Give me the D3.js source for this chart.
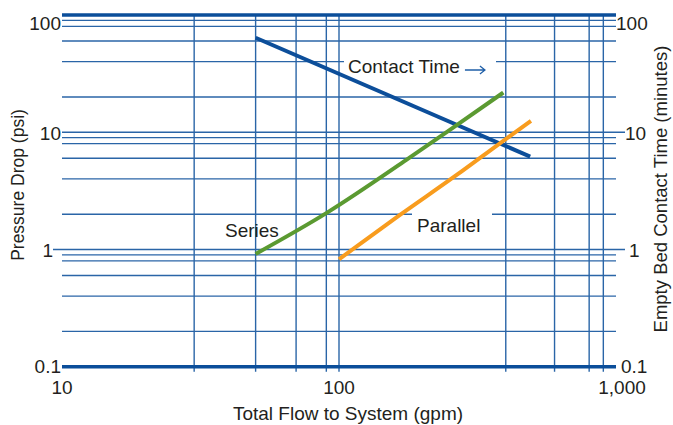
<!DOCTYPE html>
<html>
<head>
<meta charset="utf-8">
<script src="https://cdn.jsdelivr.net/npm/d3@7"></script>
<style>
  html, body { margin: 0; padding: 0; background: #fff; }
  svg { display: block; }
  text { font-family: "Liberation Sans", Arial, sans-serif; fill: #231f20; }
</style>
</head>
<body>
<div id="chart"></div>
<script>
// ---- Data ----
const contactFlow = [50, 490];
const contactTime = [64, 6.2];

const seriesFlow = [50, 90, 175, 266, 392];
const seriesDrop = [0.915, 2.04, 5.8, 11.5, 21.8];

const parallelFlow = [100, 166, 266, 381, 493];
const parallelDrop = [0.825, 1.97, 4.32, 8.05, 12.5];

const xTickValues = [10, 100, 1000];
const xTickLabels = ["10", "100", "1,000"];
const yTickValues = [0.1, 1, 10, 100];
const yTickLabels = ["0.1", "1", "10", "100"];

const hGridValues = [0.2, 0.4, 0.6, 0.8, 0.9, 1, 2, 4, 6, 8, 9, 10, 20, 40, 60, 80, 90];
const vGridValues = [30, 50, 70, 90, 100, 400, 600, 800, 900];

// ---- Layout ----
const W = 673, H = 425;
const svg = d3.select("#chart").append("svg").attr("width", W).attr("height", H);
svg.append("rect").attr("width", W).attr("height", H).attr("fill", "#fff");

const x = d3.scaleLog().domain([10, 1000]).range([62, 616]);
const y = d3.scaleLog().domain([0.1, 100]).range([366.7, 15]);

const gridColor = "#2a65a7";
const borderColor = "#0b4e9a";

// horizontal grid
svg.append("g").selectAll("line").data(hGridValues).join("line")
  .attr("x1", d => x(10) - (d === 1 ? 9 : 0))
  .attr("x2", d => x(1000) + ((d === 1 || d === 10) ? 9 : 0))
  .attr("y1", d => y(d)).attr("y2", d => y(d))
  .attr("stroke", gridColor).attr("stroke-width", 1.4);

// vertical grid
svg.append("g").selectAll("line").data(vGridValues).join("line")
  .attr("x1", d => x(d)).attr("x2", d => x(d))
  .attr("y1", y(100) - 1).attr("y2", y(0.1) + 5)
  .attr("stroke", gridColor).attr("stroke-width", 1.4);

// thick top/bottom borders
svg.append("g").selectAll("line").data([0.1, 100]).join("line")
  .attr("x1", x(10)).attr("x2", x(1000))
  .attr("y1", d => y(d)).attr("y2", d => y(d))
  .attr("stroke", borderColor).attr("stroke-width", 3.5);

// ---- Axis labels ----
const fs = 19;
// left y labels
svg.append("g").selectAll("text").data(yTickValues).join("text")
  .attr("x", d => 61 - (d === 1 ? 8 : 0))
  .attr("y", d => y(d) + (d === 100 ? 7 : 0) + (d === 0.1 ? -1 : 0) + 1)
  .attr("text-anchor", "end").attr("dominant-baseline", "central")
  .attr("font-size", fs)
  .text((d, i) => yTickLabels[i]);

// right y labels
const rightOffset = { 0.1: 5, 1: 13, 10: 9, 100: 0 };
svg.append("g").selectAll("text").data(yTickValues).join("text")
  .attr("x", d => x(1000) + rightOffset[d])
  .attr("y", d => y(d) + (d === 100 ? 7 : 0) + (d === 0.1 ? -1 : 0) + 1)
  .attr("text-anchor", "start").attr("dominant-baseline", "central")
  .attr("font-size", fs)
  .text((d, i) => yTickLabels[i]);

// bottom x labels
svg.append("g").selectAll("text").data(xTickValues).join("text")
  .attr("x", d => x(d) + (d === 1000 ? 6 : 0))
  .attr("y", 394)
  .attr("text-anchor", "middle")
  .attr("font-size", fs)
  .text((d, i) => xTickLabels[i]);

// axis titles
svg.append("text").attr("x", 348).attr("y", 420).attr("text-anchor", "middle")
  .attr("font-size", fs).text("Total Flow to System (gpm)");
svg.append("text").attr("transform", "translate(24,185) rotate(-90)")
  .attr("text-anchor", "middle").attr("font-size", 17.5).text("Pressure Drop (psi)");
svg.append("text").attr("transform", "translate(667,189) rotate(-90)")
  .attr("text-anchor", "middle").attr("font-size", 18.5).text("Empty Bed Contact Time (minutes)");

// ---- annotation boxes (break grid lines) ----
const ann = svg.append("g");
ann.append("rect").attr("x", 344).attr("y", 52).attr("width", 152).attr("height", 24).attr("fill", "#fff");
ann.append("rect").attr("x", 412).attr("y", 212).attr("width", 80).attr("height", 24).attr("fill", "#fff");

// ---- data lines ----
const line = d3.line().x(d => x(d[0])).y(d => y(d[1])).curve(d3.curveMonotoneX);

svg.append("path").datum(d3.zip(contactFlow, contactTime))
  .attr("d", line).attr("fill", "none").attr("stroke", "#0c4e9a").attr("stroke-width", 4);
svg.append("path").datum(d3.zip(seriesFlow, seriesDrop))
  .attr("d", line).attr("fill", "none").attr("stroke", "#5b9a31").attr("stroke-width", 4);
svg.append("path").datum(d3.zip(parallelFlow, parallelDrop))
  .attr("d", line).attr("fill", "none").attr("stroke", "#f89c1e").attr("stroke-width", 4);

// ---- annotation text ----
const ct = svg.append("text").attr("x", 348).attr("y", 73).attr("font-size", fs).text("Contact Time");
const bb = ct.node().getBBox();
const ax0 = bb.x + bb.width + 5, ay = 70;
svg.append("path")
  .attr("d", `M${ax0},${ay}H${ax0 + 20}M${ax0 + 15},${ay - 4}L${ax0 + 20},${ay}L${ax0 + 15},${ay + 4}`)
  .attr("fill", "none").attr("stroke", "#1f5fa8").attr("stroke-width", 1.3);

svg.append("text").attr("x", 225).attr("y", 237).attr("font-size", fs).text("Series");
svg.append("text").attr("x", 417).attr("y", 232).attr("font-size", fs).text("Parallel");
</script>
</body>
</html>
